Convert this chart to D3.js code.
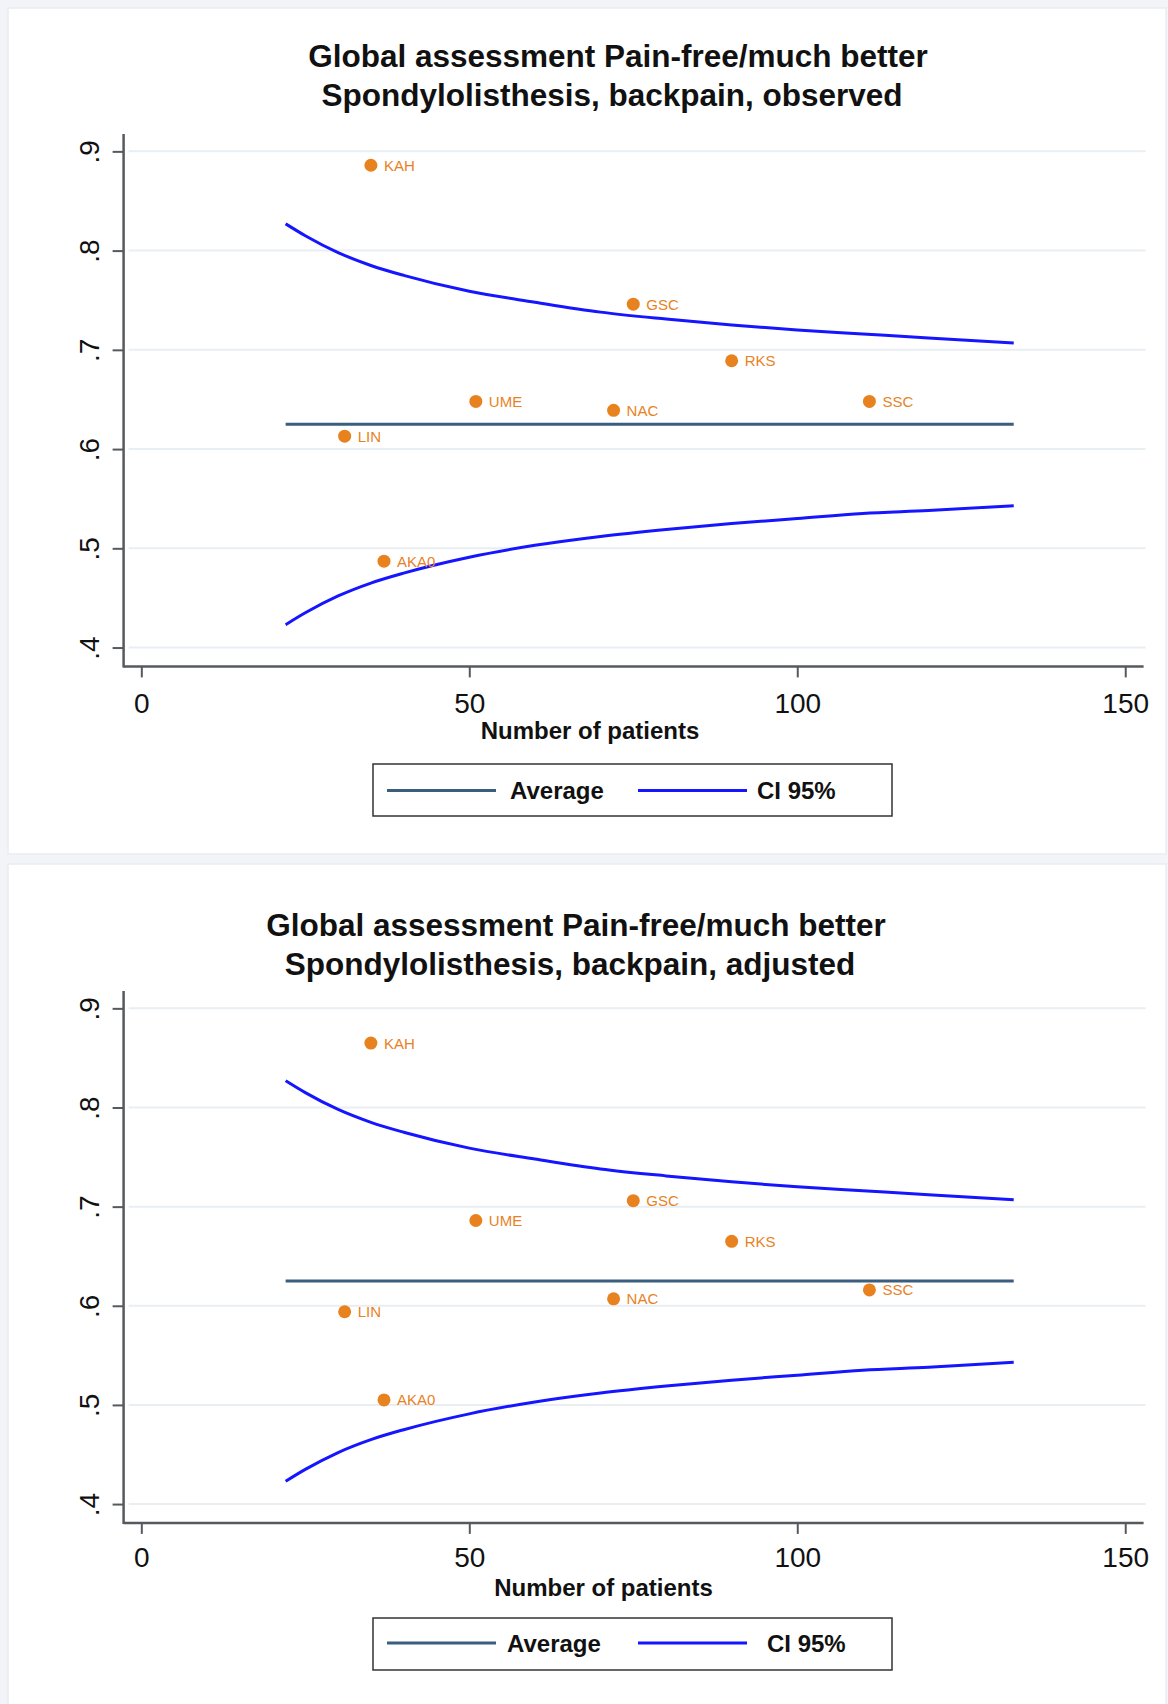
<!DOCTYPE html>
<html>
<head>
<meta charset="utf-8">
<script src="https://cdn.jsdelivr.net/npm/d3@7"></script>
<style>
  html, body { margin: 0; padding: 0; background: #f2f4f7; }
  svg { display: block; }
  text { font-family: "Liberation Sans", Arial, sans-serif; }
</style>
</head>
<body>
<svg id="chart" width="1168" height="1704"></svg>
<script>
// ---------------- data ----------------
const centres   = ["LIN", "KAH", "AKA0", "UME", "NAC", "GSC", "RKS", "SSC"];
const patients  = [31, 35, 37, 51, 72, 75, 90, 111];
const observed  = [0.613, 0.886, 0.487, 0.648, 0.639, 0.746, 0.689, 0.648];
const adjusted  = [0.594, 0.865, 0.505, 0.686, 0.607, 0.706, 0.665, 0.616];

const averageValue = 0.625;
const averageN     = [22, 133];

const ciN     = [22, 25, 30, 35, 40, 50, 60, 70, 80, 90, 100, 110, 120, 133];
const ciUpper = [0.827, 0.815, 0.798, 0.785, 0.775, 0.759, 0.748, 0.738, 0.731, 0.725, 0.720, 0.716, 0.712, 0.707];
const ciLower = [0.423, 0.435, 0.452, 0.465, 0.475, 0.491, 0.503, 0.512, 0.519, 0.525, 0.530, 0.535, 0.538, 0.543];

const xTicks      = [0, 50, 100, 150];
const yTicks      = [0.4, 0.5, 0.6, 0.7, 0.8, 0.9];
const yTickLabels = [".4", ".5", ".6", ".7", ".8", ".9"];

const titleLine1  = "Global assessment Pain-free/much better";
const titlesLine2 = ["Spondylolisthesis, backpain, observed", "Spondylolisthesis, backpain, adjusted"];
const xAxisTitle  = "Number of patients";
const legendLabels = ["Average", "CI 95%"];

// ---------------- style ----------------
const C = {
  marker: "#e8821f",
  avg: "#3b5d7e",
  ci: "#1515ff",
  axis: "#555a5f",
  grid: "#e9eef3"
};

const svg = d3.select("#chart");

// panel backgrounds
svg.append("rect").attr("x", 8).attr("y", 8).attr("width", 1158).attr("height", 846)
  .attr("fill", "#ffffff").attr("stroke", "#e8edf2").attr("stroke-width", 1.5);
svg.append("rect").attr("x", 8).attr("y", 864).attr("width", 1158).attr("height", 850)
  .attr("fill", "#ffffff").attr("stroke", "#e8edf2").attr("stroke-width", 1.5);

const panels = [
  { values: observed, title2: titlesLine2[0], top: 134, bottom: 666.4,
    t1: [618, 66.5], t2: [612, 105.5], xlab: 713, xtitle: [590, 739],
    legY: 790.5, legBox: [373, 764, 519, 52], legTextX: [510, 757] },
  { values: adjusted, title2: titlesLine2[1], top: 991, bottom: 1522.9,
    t1: [576, 935.5], t2: [570, 974.5], xlab: 1567.5, xtitle: [603.5, 1595.5],
    legY: 1643, legBox: [373, 1618, 519, 52], legTextX: [507, 767] }
];

const left = 123.6, right = 1143.6;

panels.forEach(p => {
  const g = svg.append("g");
  const x = d3.scaleLinear().domain([-2.7, 152.8]).range([left, right]);
  const y = d3.scaleLinear().domain([0.381, 0.9175]).range([p.bottom, p.top]);

  // titles
  g.append("text").attr("x", p.t1[0]).attr("y", p.t1[1]).attr("text-anchor", "middle")
    .attr("font-size", 31.5).attr("font-weight", "bold").attr("fill", "#111").text(titleLine1);
  g.append("text").attr("x", p.t2[0]).attr("y", p.t2[1]).attr("text-anchor", "middle")
    .attr("font-size", 31.5).attr("font-weight", "bold").attr("fill", "#111").text(p.title2);

  // grid
  g.append("g").selectAll("line").data(yTicks).join("line")
    .attr("x1", left + 5).attr("x2", right + 2)
    .attr("y1", d => y(d)).attr("y2", d => y(d))
    .attr("stroke", C.grid).attr("stroke-width", 2);

  // y axis
  const yAxis = d3.axisLeft(y).tickValues(yTicks).tickSize(11).tickPadding(0)
    .tickFormat((d, i) => yTickLabels[i]);
  const ya = g.append("g").attr("transform", `translate(${left},0)`).call(yAxis);
  ya.select(".domain").remove();
  ya.selectAll(".tick line").attr("stroke", C.axis).attr("stroke-width", 2);
  ya.selectAll(".tick text")
    .attr("x", 0).attr("dy", null)
    .attr("transform", "translate(-25,0) rotate(-90)")
    .attr("text-anchor", "middle")
    .attr("font-size", 28).attr("fill", "#111")
    .attr("font-family", "'Liberation Sans', Arial, sans-serif");
  g.append("line").attr("x1", left).attr("x2", left).attr("y1", p.top).attr("y2", p.bottom + 1)
    .attr("stroke", C.axis).attr("stroke-width", 2.5);

  // x axis
  const xAxis = d3.axisBottom(x).tickValues(xTicks).tickSize(11).tickFormat(d3.format("d"));
  const xa = g.append("g").attr("transform", `translate(0,${p.bottom})`).call(xAxis);
  xa.select(".domain").remove();
  xa.selectAll(".tick line").attr("stroke", C.axis).attr("stroke-width", 2);
  xa.selectAll(".tick text").attr("y", p.xlab - p.bottom).attr("dy", null)
    .attr("font-size", 28).attr("fill", "#111")
    .attr("font-family", "'Liberation Sans', Arial, sans-serif");
  g.append("line").attr("x1", left).attr("x2", right).attr("y1", p.bottom).attr("y2", p.bottom)
    .attr("stroke", C.axis).attr("stroke-width", 2.5);

  g.append("text").attr("x", p.xtitle[0]).attr("y", p.xtitle[1]).attr("text-anchor", "middle")
    .attr("font-size", 24).attr("font-weight", "bold").attr("fill", "#111").text(xAxisTitle);

  // average line
  g.append("line")
    .attr("x1", x(averageN[0])).attr("x2", x(averageN[1]))
    .attr("y1", y(averageValue)).attr("y2", y(averageValue))
    .attr("stroke", C.avg).attr("stroke-width", 3);

  // CI lines
  const ciLine = d3.line().x(d => x(d[0])).y(d => y(d[1])).curve(d3.curveMonotoneX);
  [ciUpper, ciLower].forEach(arr => {
    g.append("path").datum(ciN.map((n, i) => [n, arr[i]]))
      .attr("d", ciLine).attr("fill", "none")
      .attr("stroke", C.ci).attr("stroke-width", 3);
  });

  // markers
  const pts = centres.map((c, i) => ({ c, n: patients[i], v: p.values[i] }));
  g.append("g").selectAll("circle").data(pts).join("circle")
    .attr("cx", d => x(d.n)).attr("cy", d => y(d.v)).attr("r", 6.5)
    .attr("fill", C.marker);
  g.append("g").selectAll("text").data(pts).join("text")
    .attr("x", d => x(d.n) + 13).attr("y", d => y(d.v) + 5.5)
    .attr("font-size", 15).attr("fill", C.marker).text(d => d.c);

  // legend
  const lb = p.legBox;
  g.append("rect").attr("x", lb[0]).attr("y", lb[1]).attr("width", lb[2]).attr("height", lb[3])
    .attr("fill", "#fff").attr("stroke", "#333").attr("stroke-width", 1.5);
  g.append("line").attr("x1", 387).attr("x2", 496).attr("y1", p.legY).attr("y2", p.legY)
    .attr("stroke", C.avg).attr("stroke-width", 3);
  g.append("line").attr("x1", 638).attr("x2", 747).attr("y1", p.legY).attr("y2", p.legY)
    .attr("stroke", C.ci).attr("stroke-width", 3);
  g.append("text").attr("x", p.legTextX[0]).attr("y", p.legY + 8.5)
    .attr("font-size", 24).attr("font-weight", "bold").attr("fill", "#111").text(legendLabels[0]);
  g.append("text").attr("x", p.legTextX[1]).attr("y", p.legY + 8.5)
    .attr("font-size", 24).attr("font-weight", "bold").attr("fill", "#111").text(legendLabels[1]);
});
</script>
</body>
</html>
